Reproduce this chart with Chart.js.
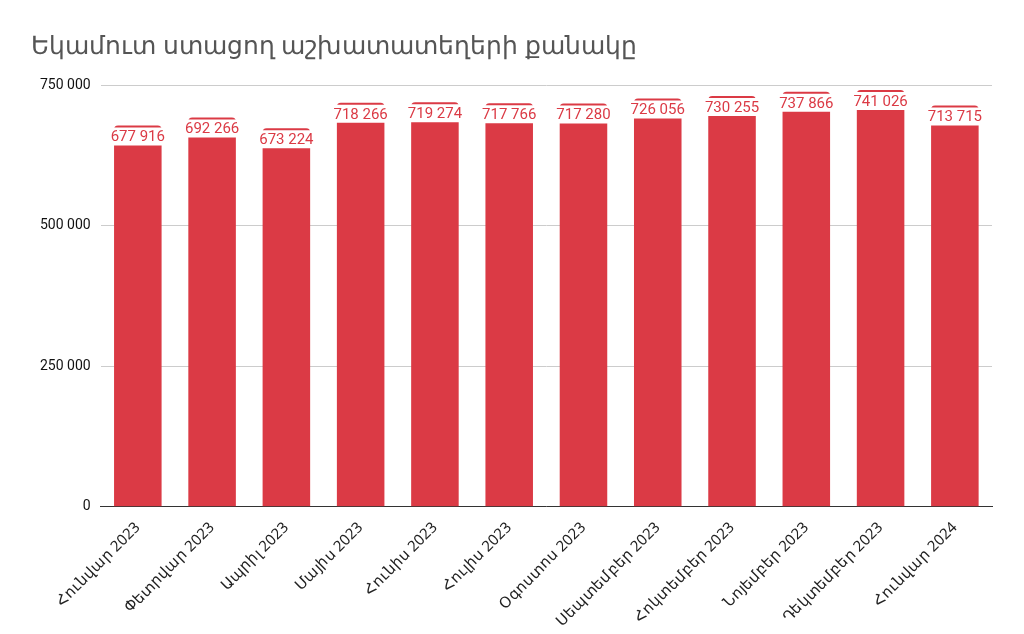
<!DOCTYPE html>
<html><head><meta charset="utf-8">
<script src="https://cdn.jsdelivr.net/npm/chart.js@4"></script>
<style>html,body{margin:0;background:#fff}#w{width:1024px;height:634px;position:relative}
#t{position:absolute;left:31px;top:27px;font:25px "Noto Sans",Roboto,sans-serif;color:#555}</style>
</head><body><div id="w"><div id="t">Եկամուտ ստացող աշխատատեղերի քանակը</div><canvas id="c" width="1024" height="634"></canvas></div>
<script>
const categories=["Հունվար 2023","Փետրվար 2023","Ապրիլ 2023","Մայիս 2023","Հունիս 2023","Հուլիս 2023","Օգոստոս 2023","Սեպտեմբեր 2023","Հոկտեմբեր 2023","Նոյեմբեր 2023","Դեկտեմբեր 2023","Հունվար 2024"];
const values=[677916,692266,673224,718266,719274,717766,717280,726056,730255,737866,741026,713715];
const fmt=v=>String(v).replace(/\B(?=(\d{3})+(?!\d))/g,' ');
const labelPlugin={id:'lbl',afterDatasetsDraw(ch){const c=ch.ctx;const m=ch.getDatasetMeta(0);
c.save();c.font='15px Roboto';c.textAlign='center';c.textBaseline='middle';
m.data.forEach((b,i)=>{const t=fmt(values[i]);const w=c.measureText(t).width+6;const y=b.y+11;
c.fillStyle='#fff';c.beginPath();c.roundRect(b.x-w/2,y-9,w,18,6);c.fill();
c.fillStyle='#db3a45';c.fillText(t,b.x,y+1);});c.restore();}};
new Chart(document.getElementById('c'),{type:'bar',
data:{labels:categories,datasets:[{data:values,backgroundColor:'#db3a45',borderRadius:{topLeft:4,topRight:4},barPercentage:0.64,categoryPercentage:1}]},
options:{responsive:false,animation:false,layout:{padding:{top:85,right:32,left:30,bottom:0}},
plugins:{legend:{display:false},tooltip:{enabled:false}},
scales:{y:{min:0,max:750000,ticks:{stepSize:250000,callback:v=>fmt(v),color:'#111',font:{family:'Roboto',size:14},padding:10},grid:{color:'#ccc',drawTicks:false},border:{display:false}},
x:{grid:{display:false},border:{color:'#333'},ticks:{maxRotation:45,minRotation:45,color:'#222',font:{family:'"Noto Sans",Roboto',size:15},padding:4}}}},
plugins:[labelPlugin]});
</script></body></html>
